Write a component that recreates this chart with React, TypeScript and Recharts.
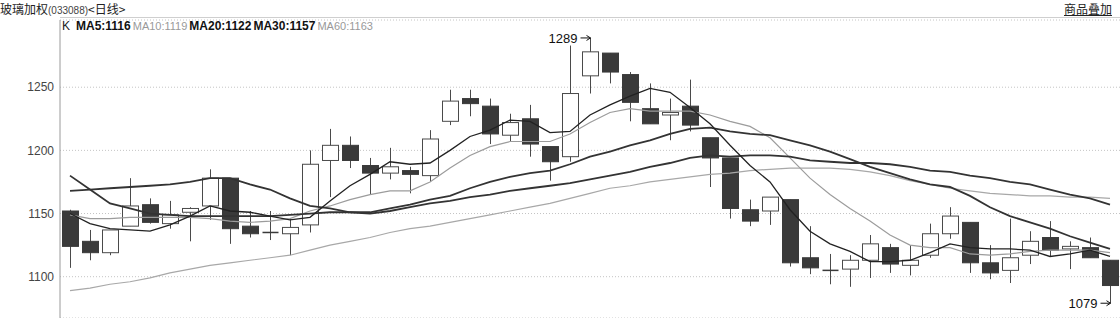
import React from 'react';
import { ComposedChart, Bar, Line, XAxis, YAxis, CartesianGrid } from 'recharts';

const opens = [1152,1128,1119,1140,1157,1142,1151,1156,1178,1140,1135,1134,1141,1192,1204,1188,1182,1184,1180,1223,1241,1235,1212,1225,1203,1195,1259,1277,1260,1233,1228,1235,1210,1194,1153,1152,1161,1115,1105,1106,1113,1123,1109,1117,1134,1143,1111,1105,1117,1131,1122,1123,1113];
const highs = [1153,1137,1137,1178,1162,1160,1155,1185,1178,1152,1152,1146,1200,1217,1211,1194,1202,1187,1216,1248,1248,1241,1229,1236,1203,1283,1289,1277,1262,1253,1241,1256,1210,1194,1161,1163,1161,1140,1118,1117,1133,1126,1125,1142,1155,1143,1125,1146,1136,1144,1128,1131,1113];
const lows = [1107,1113,1117,1140,1142,1138,1128,1145,1126,1131,1129,1117,1135,1163,1186,1165,1177,1166,1175,1220,1227,1205,1207,1195,1176,1191,1245,1253,1223,1221,1208,1215,1171,1146,1140,1141,1108,1102,1094,1092,1099,1103,1101,1115,1130,1103,1098,1095,1110,1116,1106,1115,1079];
const closes = [1124,1119,1137,1156,1143,1149,1154,1178,1138,1134,1135,1139,1189,1204,1192,1182,1187,1181,1209,1239,1237,1213,1222,1205,1191,1245,1278,1262,1238,1221,1230,1220,1194,1154,1144,1163,1111,1107,1105,1113,1126,1110,1113,1134,1148,1111,1103,1115,1128,1121,1124,1115,1093];

const ma5 = [1150,1142,1138,1137,1136,1141,1148,1156,1152,1151,1148,1145,1147,1160,1172,1181,1191,1189,1190,1200,1211,1216,1224,1223,1214,1215,1228,1236,1243,1249,1246,1234,1221,1204,1188,1175,1153,1136,1126,1120,1112,1112,1113,1119,1126,1123,1122,1122,1121,1116,1118,1121,1116];
const ma10 = [1149,1146,1146,1147,1147,1147,1147,1146,1144,1143,1144,1146,1152,1156,1161,1165,1168,1168,1175,1186,1196,1203,1207,1207,1207,1213,1222,1230,1233,1231,1231,1231,1228,1223,1219,1210,1194,1178,1165,1154,1144,1133,1125,1123,1123,1118,1117,1118,1120,1121,1121,1121,1119];
const ma20 = [1180,1169,1158,1154,1150,1149,1148,1148,1148,1148,1148,1149,1150,1151,1151,1151,1154,1157,1161,1164,1170,1175,1179,1182,1184,1189,1195,1199,1204,1208,1213,1217,1218,1215,1213,1212,1208,1204,1199,1193,1187,1182,1177,1173,1171,1164,1155,1148,1143,1138,1132,1127,1122];
const ma30 = [1168,1169,1170,1171,1172,1173,1175,1178,1178,1173,1169,1162,1156,1154,1151,1150,1152,1155,1158,1160,1163,1165,1168,1170,1172,1174,1177,1180,1183,1187,1190,1194,1196,1195,1196,1196,1195,1192,1191,1190,1190,1189,1187,1184,1183,1180,1178,1175,1173,1169,1165,1162,1157];
const ma60 = [1089,1091,1094,1096,1099,1103,1106,1109,1111,1113,1115,1117,1121,1125,1128,1131,1135,1138,1140,1143,1146,1149,1152,1155,1158,1162,1166,1170,1172,1175,1177,1179,1181,1182,1184,1185,1186,1186,1186,1185,1183,1180,1176,1173,1170,1168,1166,1165,1164,1164,1163,1163,1162];

const yTicks = [1100, 1150, 1200, 1250];

const data = opens.map((o, i) => ({
  i,
  open: o,
  high: highs[i],
  low: lows[i],
  close: closes[i],
  range: [lows[i], highs[i]],
  ma5: ma5[i],
  ma10: ma10[i],
  ma20: ma20[i],
  ma30: ma30[i],
  ma60: ma60[i],
}));

const maxHigh = Math.max(...highs);
const minLow = Math.min(...lows);

const DARK = '#3a3a3a';
const EDGE = '#4a4a4a';

function Marker({ cx, ty, value }: { cx: number; ty: number; value: number }) {
  return (
    <g>
      <text x={cx - 13} y={ty + 5} textAnchor="end" fontSize={13} fill="#111" fontFamily="Liberation Sans, Arial, sans-serif">{value}</text>
      <line x1={cx - 10} x2={cx} y1={ty} y2={ty} stroke="#111" strokeWidth={1} />
      <path d={`M${cx - 4},${ty - 2.5} L${cx},${ty} L${cx - 4},${ty + 2.5}`} fill="none" stroke="#111" strokeWidth={1} />
    </g>
  );
}

function Candle(props: any) {
  const { x, y, width, height, payload } = props;
  if (payload == null || height == null) return null;
  const { open, close, high, low } = payload;
  const k = height / (high - low || 1);
  const cx = Math.round(x + width / 2) + 0.5;
  const yOf = (v: number) => y + (high - v) * k;
  const top = yOf(Math.max(open, close));
  const bot = yOf(Math.min(open, close));
  const bw = 16;
  const up = close > open;
  const flat = close === open;
  const left = cx - bw / 2;
  const parts: any[] = [];
  parts.push(<line key="w" x1={cx} x2={cx} y1={y} y2={y + height} stroke={EDGE} strokeWidth={1} />);
  if (flat) {
    parts.push(<line key="b" x1={left} x2={left + bw} y1={top} y2={top} stroke={DARK} strokeWidth={1.5} />);
  } else if (up) {
    parts.push(<rect key="b" x={left} y={top} width={bw} height={Math.max(bot - top, 1)} fill="#fff" stroke={EDGE} strokeWidth={1} />);
  } else {
    parts.push(<rect key="b" x={left} y={top} width={bw} height={Math.max(bot - top, 1)} fill={DARK} stroke={DARK} strokeWidth={1} />);
  }
  if (high === maxHigh) parts.push(<Marker key="hi" cx={cx} ty={y} value={high} />);
  if (low === minLow) parts.push(<Marker key="lo" cx={cx} ty={y + height} value={low} />);
  return <g>{parts}</g>;
}

const W = 1120;
const H = 318;

const legendItems = [
  { label: 'MA5:1116', bold: true },
  { label: 'MA10:1119', bold: false },
  { label: 'MA20:1122', bold: true },
  { label: 'MA30:1157', bold: true },
  { label: 'MA60:1163', bold: false },
];

export default function App() {
  return (
    <div style={{ position: 'relative', width: W, height: H, background: '#fff', overflow: 'hidden', fontFamily: '"Liberation Sans", Arial, sans-serif' }}>
      <style>{`body{margin:0;}`}</style>
      <ComposedChart width={W} height={H} data={data} margin={{ top: 20, right: 0, bottom: 0, left: 0 }} barCategoryGap={0}>
        <CartesianGrid vertical={false} horizontal stroke="#c4c4c4" strokeDasharray="1 2" />
        <XAxis dataKey="i" hide />
        <YAxis
          type="number"
          width={60}
          domain={[1067.3, 1303.2]}
          allowDataOverflow
          ticks={yTicks}
          tickLine={false}
          tickSize={0}
          tickMargin={6}
          axisLine={{ stroke: '#9a9a9a' }}
          tick={{ fill: '#444', fontSize: 12, fontFamily: '"Liberation Sans", Arial, sans-serif' }}
        />
        <Bar dataKey="range" shape={Candle} isAnimationActive={false} />
        <Line type="linear" dataKey="ma60" stroke="#a8a8a8" strokeWidth={1.2} dot={false} isAnimationActive={false} />
        <Line type="linear" dataKey="ma10" stroke="#9c9c9c" strokeWidth={1.2} dot={false} isAnimationActive={false} />
        <Line type="linear" dataKey="ma30" stroke="#333" strokeWidth={1.8} dot={false} isAnimationActive={false} />
        <Line type="linear" dataKey="ma20" stroke="#333" strokeWidth={1.8} dot={false} isAnimationActive={false} />
        <Line type="linear" dataKey="ma5" stroke="#222" strokeWidth={1.3} dot={false} isAnimationActive={false} />
      </ComposedChart>
      <div style={{ position: 'absolute', left: 0, top: 2, height: 13, whiteSpace: 'nowrap', fontSize: 12, lineHeight: '13px', color: '#222' }}>
        <span style={{ fontFamily: '"Noto Sans CJK SC", sans-serif', lineHeight: '13px' }}>玻璃加权</span>
        <span style={{ fontSize: 10, color: '#444' }}>(033088)</span>
        <span style={{ fontFamily: '"Noto Sans CJK SC", sans-serif', lineHeight: '13px' }}>&lt;日线&gt;</span>
      </div>
      <div style={{ position: 'absolute', right: 8, top: 2, fontSize: 12, lineHeight: '13px', color: '#222', textDecoration: 'underline', fontFamily: '"Noto Sans CJK SC", sans-serif' }}>商品叠加</div>
      <div style={{ position: 'absolute', left: 60, right: 0, top: 17, height: 1, background: '#cfcfcf' }} />
      <div style={{ position: 'absolute', left: 62, top: 19, whiteSpace: 'nowrap', fontSize: 12, lineHeight: '14px' }}>
        <span style={{ color: '#222', marginRight: 6 }}>K</span>
        {legendItems.map((it) => (
          <span key={it.label} style={{ fontWeight: it.bold ? 700 : 400, color: it.bold ? '#111' : '#999', fontSize: it.bold ? 12 : 11, marginRight: 2 }}>{it.label}</span>
        ))}
      </div>
    </div>
  );
}
